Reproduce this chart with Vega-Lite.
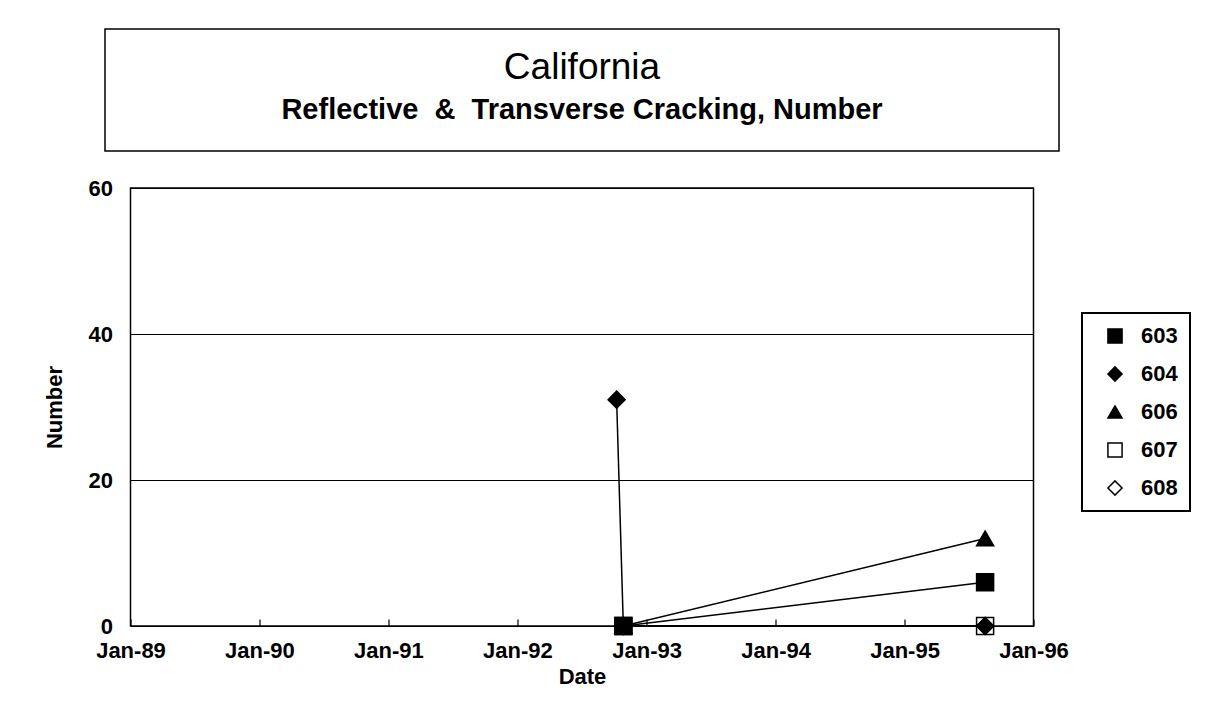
{
  "$schema": "https://vega.github.io/schema/vega-lite/v6.json",
  "padding": {"left": 42, "top": 28, "right": 5, "bottom": 5},
  "background": "white",
  "config": {
    "font": "Liberation Sans",
    "view": {"stroke": "black", "strokeWidth": 1.5},
    "legend": {"strokeWidth": 2, "strokeColor": "black"}
  },
  "bounds": "flush",
  "center": true,
  "spacing": 37,
  "vconcat": [
    {
      "width": 954,
      "height": 122,
      "view": {"stroke": "black", "strokeWidth": 1.5, "fill": "white"},
      "title": {
        "text": "California",
        "subtitle": "Reflective\u00a0 &\u00a0 Transverse Cracking, Number",
        "fontSize": 37,
        "fontWeight": "normal",
        "subtitleFontSize": 29,
        "subtitleFontWeight": "bold",
        "subtitlePadding": 9,
        "anchor": "middle",
        "frame": "group",
        "offset": -97,
        "color": "black",
        "subtitleColor": "black",
        "font": "Liberation Sans",
        "subtitleFont": "Liberation Sans"
      },
      "data": {"values": [{"t": ""}]},
      "mark": {"type": "text"},
      "encoding": {"text": {"field": "t", "type": "nominal"}}
    },
    {
      "width": 903,
      "height": 438,
      "data": {
        "values": [
          {"series": "607", "date": "1992-10-27", "value": 0},
          {"series": "607", "date": "1995-08-17", "value": 0},
          {"series": "608", "date": "1992-10-27", "value": 0},
          {"series": "608", "date": "1995-08-17", "value": 0},
          {"series": "604", "date": "1992-10-08", "value": 31},
          {"series": "604", "date": "1992-10-27", "value": 0},
          {"series": "604", "date": "1995-08-17", "value": 0},
          {"series": "606", "date": "1992-10-27", "value": 0},
          {"series": "606", "date": "1995-08-17", "value": 12},
          {"series": "603", "date": "1992-10-27", "value": 0},
          {"series": "603", "date": "1995-08-17", "value": 6}
        ]
      },
      "encoding": {
        "x": {
          "field": "date",
          "type": "temporal",
          "scale": {
            "type": "utc",
            "domain": [
              {"year": 1989, "month": 1, "date": 1, "utc": true},
              {"year": 1996, "month": 1, "date": 1, "utc": true}
            ]
          },
          "axis": {
            "title": "Date",
            "values": [
              {"year": 1989, "month": 1, "date": 1, "utc": true},
              {"year": 1990, "month": 1, "date": 1, "utc": true},
              {"year": 1991, "month": 1, "date": 1, "utc": true},
              {"year": 1992, "month": 1, "date": 1, "utc": true},
              {"year": 1993, "month": 1, "date": 1, "utc": true},
              {"year": 1994, "month": 1, "date": 1, "utc": true},
              {"year": 1995, "month": 1, "date": 1, "utc": true},
              {"year": 1996, "month": 1, "date": 1, "utc": true}
            ],
            "format": "%b-%y",
            "grid": false,
            "domain": false,
            "offset": -7,
            "tickColor": "black",
            "tickSize": 7,
            "tickWidth": 1.2,
            "labelFontSize": 22,
            "labelFontWeight": "bold",
            "labelColor": "black",
            "labelPadding": 14,
            "labelFlush": false,
            "labelOverlap": false,
            "titleFontSize": 22,
            "titleFontWeight": "bold",
            "titleColor": "black",
            "titlePadding": 5
          }
        },
        "y": {
          "field": "value",
          "type": "quantitative",
          "scale": {"domain": [0, 60]},
          "axis": {
            "title": "Number",
            "values": [0, 20, 40, 60],
            "grid": true,
            "gridColor": "black",
            "gridWidth": 1.2,
            "gridOpacity": 1,
            "ticks": false,
            "domain": false,
            "labelFontSize": 22,
            "labelFontWeight": "bold",
            "labelColor": "black",
            "labelPadding": 18,
            "titleFontSize": 22,
            "titleFontWeight": "bold",
            "titleColor": "black",
            "titlePadding": 22
          }
        }
      },
      "layer": [
        {
          "mark": {"type": "line", "color": "black", "strokeWidth": 1.5},
          "encoding": {"detail": {"field": "series", "type": "nominal"}}
        },
        {
          "mark": {"type": "point", "filled": false, "size": 290, "strokeWidth": 1.5, "opacity": 1},
          "encoding": {
            "shape": {
              "field": "series",
              "type": "nominal",
              "scale": {
                "domain": ["603", "604", "606", "607", "608"],
                "range": ["square", "diamond", "triangle-up", "square", "diamond"]
              },
              "legend": {
                "title": null,
                "orient": "none",
                "legendX": 977,
                "legendY": 284,
                "fillColor": "white",
                "padding": 12,
                "symbolOffset": 10,
                "labelOffset": 15,
                "labelFontSize": 22,
                "labelFontWeight": "bold",
                "labelColor": "black",
                "symbolSize": 200,
                "symbolStrokeWidth": 1.5,
                "rowPadding": 16
              }
            },
            "fill": {
              "field": "series",
              "type": "nominal",
              "scale": {
                "domain": ["603", "604", "606", "607", "608"],
                "range": ["black", "black", "black", "white", "white"]
              },
              "legend": {
                "title": null,
                "orient": "none",
                "legendX": 977,
                "legendY": 284,
                "fillColor": "white",
                "padding": 12,
                "symbolOffset": 10,
                "labelOffset": 15,
                "labelFontSize": 22,
                "labelFontWeight": "bold",
                "labelColor": "black",
                "symbolSize": 200,
                "symbolStrokeWidth": 1.5,
                "rowPadding": 16
              }
            },
            "stroke": {
              "field": "series",
              "type": "nominal",
              "scale": {
                "domain": ["603", "604", "606", "607", "608"],
                "range": ["black", "black", "black", "black", "black"]
              },
              "legend": {
                "title": null,
                "orient": "none",
                "legendX": 977,
                "legendY": 284,
                "fillColor": "white",
                "padding": 12,
                "symbolOffset": 10,
                "labelOffset": 15,
                "labelFontSize": 22,
                "labelFontWeight": "bold",
                "labelColor": "black",
                "symbolSize": 200,
                "symbolStrokeWidth": 1.5,
                "rowPadding": 16
              }
            }
          }
        }
      ]
    }
  ]
}
